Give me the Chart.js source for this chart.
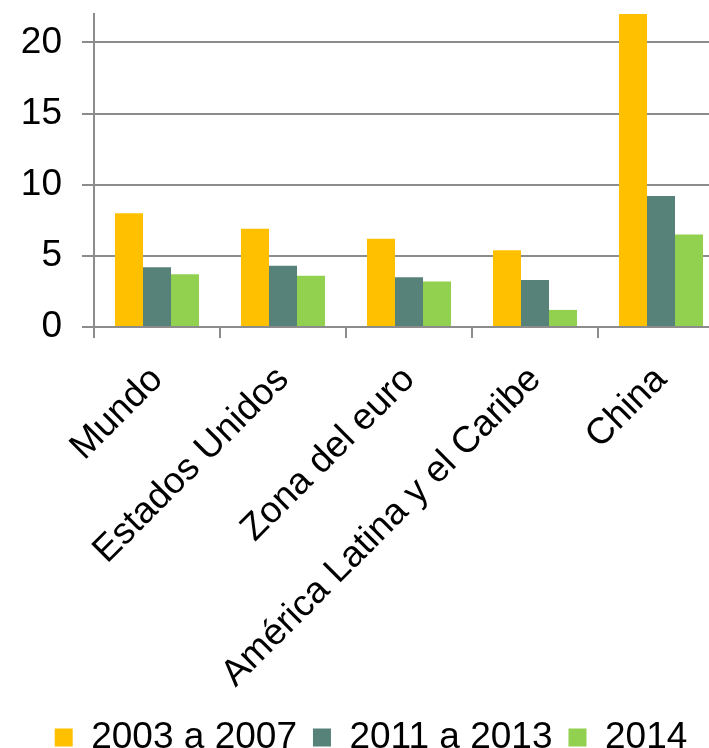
<!DOCTYPE html>
<html>
<head>
<meta charset="utf-8">
<script src="https://cdn.jsdelivr.net/npm/chart.js@4/dist/chart.umd.min.js"></script>
<style>
  body { margin: 0; overflow: hidden; background: #fff; }
  #wrap { width: 762px; height: 748px; }
</style>
</head>
<body>
<div id="wrap"><canvas id="growthChart" width="762" height="748"></canvas></div>
<script>
const categories = ['Mundo', 'Estados Unidos', 'Zona del euro', 'América Latina y el Caribe', 'China'];
const seriesNames = ['2003 a 2007', '2011 a 2013', '2014'];
const values2003to2007 = [8.0, 6.9, 6.2, 5.4, 22];
const values2011to2013 = [4.2, 4.3, 3.5, 3.3, 9.2];
const values2014 = [3.7, 3.6, 3.2, 1.2, 6.5];
const yTicks = [0, 5, 10, 15, 20];

const colors = ['#FFC000', '#578279', '#92D050'];
const gray = '#8c8c8c';
const family = 'Liberation Sans, Arial, sans-serif';
const font = { family: family, size: 37 };
const legendFont = { family: family, size: 37, lineHeight: 1.0 };

Chart.defaults.font.family = family;
Chart.defaults.color = '#000';

const ctx = document.getElementById('growthChart').getContext('2d');

new Chart(ctx, {
    type: 'bar',
    data: {
        labels: categories,
        datasets: [values2003to2007, values2011to2013, values2014].map((vals, i) => ({
            label: seriesNames[i],
            data: vals,
            backgroundColor: colors[i],
            borderWidth: 0,
            categoryPercentage: 0.667,
            barPercentage: 1.0
        }))
    },
    options: {
        responsive: false,
        animation: false,
        layout: {
            padding: { left: 18, top: 14, right: 38, bottom: -18 }
        },
        plugins: {
            legend: {
                position: 'bottom',
                labels: {
                    font: legendFont,
                    color: '#000',
                    boxWidth: 18,
                    boxHeight: 18,
                    padding: 16
                }
            },
            tooltip: { enabled: false }
        },
        scales: {
            x: {
                grid: {
                    offset: true,
                    drawOnChartArea: false,
                    color: gray,
                    lineWidth: 2,
                    tickLength: 11
                },
                border: { color: gray, width: 2 },
                ticks: {
                    font: font,
                    color: '#000',
                    maxRotation: 45,
                    minRotation: 45,
                    autoSkip: false,
                    padding: 20
                }
            },
            y: {
                min: 0,
                max: 22,
                afterBuildTicks: function(scale) {
                    scale.ticks = yTicks.map(v => ({ value: v }));
                },
                afterFit: function(scale) {
                    // fixed axis width, no extra room above the plot
                    scale.width = 76;
                    scale.paddingTop = 0;
                    scale.paddingBottom = 0;
                },
                grid: {
                    color: gray,
                    lineWidth: 2,
                    tickLength: 12
                },
                border: { color: gray, width: 2 },
                ticks: {
                    font: font,
                    color: '#000',
                    padding: 20
                }
            }
        }
    }
});
</script>
</body>
</html>
